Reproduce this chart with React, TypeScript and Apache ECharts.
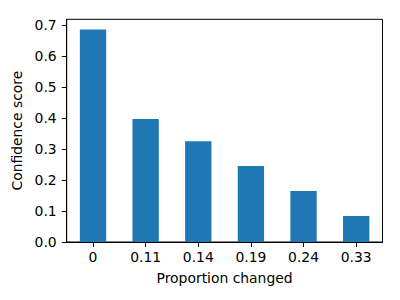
import React, { useEffect, useRef } from "react";
import * as echarts from "echarts";

const categories = ["0", "0.11", "0.14", "0.19", "0.24", "0.33"];
const scores = [0.686, 0.397, 0.325, 0.245, 0.165, 0.084];
const yTicks = [0, 0.1, 0.2, 0.3, 0.4, 0.5, 0.6, 0.7];

export default function App() {
  const ref = useRef<HTMLDivElement>(null);
  useEffect(() => {
    if (!ref.current) return;
    const chart = echarts.init(ref.current, null, { renderer: "svg" });
    const font = "DejaVu Sans";
    chart.setOption({
      animation: false,
      backgroundColor: "#ffffff",
      grid: {
        left: 66.7,
        right: 17.5,
        top: 19.3,
        bottom: 58,
        show: true,
        borderColor: "#000",
        borderWidth: 1,
        backgroundColor: "transparent",
      },
      xAxis: {
        type: "category",
        data: categories,
        name: "Proportion changed",
        nameLocation: "middle",
        nameGap: 29,
        nameTextStyle: { fontFamily: font, fontSize: 13.9, color: "#000" },
        axisLine: { show: true, lineStyle: { color: "#000", width: 1 } },
        axisTick: { show: true, alignWithLabel: true, length: 4.9, lineStyle: { color: "#000" } },
        axisLabel: { fontFamily: font, fontSize: 13.9, color: "#000", margin: 8 },
        splitLine: { show: false },
      },
      yAxis: {
        type: "value",
        min: 0,
        max: 0.719,
        name: "Confidence score",
        nameLocation: "middle",
        nameGap: 39,
        nameTextStyle: { fontFamily: font, fontSize: 13.9, color: "#000" },
        axisLine: { show: true, lineStyle: { color: "#000", width: 1 } },
        axisTick: { show: true, length: 4.9, lineStyle: { color: "#000" }, customValues: yTicks },
        axisLabel: {
          fontFamily: font,
          fontSize: 13.9,
          color: "#000",
          margin: 10,
          customValues: yTicks,
          formatter: (v: number) => v.toFixed(1),
        },
        splitLine: { show: false },
      },
      series: [
        {
          type: "bar",
          data: scores,
          barWidth: "50%",
          itemStyle: { color: "#1f77b4" },
        },
      ],
    });
    return () => chart.dispose();
  }, []);
  return (
    <div
      ref={ref}
      style={{ position: "fixed", left: 0, top: 0, width: 400, height: 300 }}
    />
  );
}
